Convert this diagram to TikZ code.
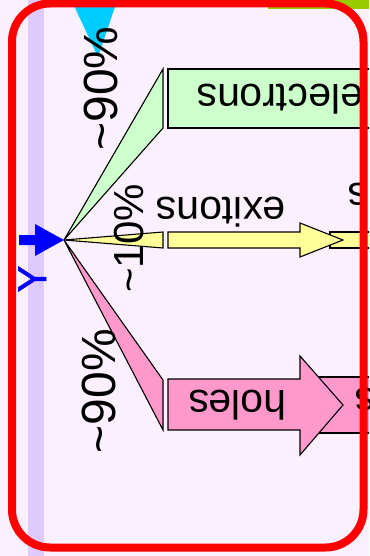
\documentclass[tikz,border=0pt]{standalone}
\usepackage{fontspec}
\setmainfont{Liberation Sans}
\definecolor{bg}{RGB}{251,240,253}
\definecolor{stripe}{RGB}{222,202,255}
\definecolor{cyanw}{RGB}{0,204,255}
\definecolor{lime}{RGB}{153,204,0}
\definecolor{elgreen}{RGB}{204,255,204}
\definecolor{exyellow}{RGB}{255,255,153}
\definecolor{hpink}{RGB}{255,153,204}
\definecolor{bordred}{RGB}{255,0,0}
\definecolor{beam}{RGB}{0,0,255}
\tikzset{
  outl/.style={draw=black, line width=1.1pt, line join=miter},
  wordlbl/.style={font=\fontsize{41}{49}\selectfont, inner sep=0pt, rotate=180, anchor=base},
  pctlbl/.style={font=\fontsize{48}{57}\selectfont, inner sep=0pt, rotate=90, anchor=base},
}
\begin{document}
\begin{tikzpicture}[x=1pt, y=-1pt]
\useasboundingbox (0,0) rectangle (369,556);
\clip (0,0) rectangle (369,556);
% background
\fill[bg] (0,0) rectangle (369,556);
\fill[stripe] (28,-5) rectangle (44,561);
\fill[lime] (268,-5) rectangle (375,9);
\fill[cyanw] (69,-5) -- (119,-5) -- (98,57) -- cycle;
% source point
\coordinate (src) at (64,240);
% wedges
\filldraw[outl, fill=elgreen] (src) -- (163,69) -- (163,128) -- cycle;
\filldraw[outl, fill=exyellow] (src) -- (163,232) -- (163,248) -- cycle;
\filldraw[outl, fill=hpink] (src) -- (163,380) -- (163,430) -- cycle;
% boxes beyond
\filldraw[outl, fill=exyellow] (330,232) rectangle (380,248);
\filldraw[outl, fill=hpink] (310,377) rectangle (380,433);
% electrons box
\filldraw[outl, fill=elgreen] (168,69) rectangle (380,128);
% exitons arrow
\filldraw[outl, fill=exyellow] (168,232) -- (300,232) -- (300,223) -- (343,240)
  -- (300,257) -- (300,248) -- (168,248) -- cycle;
% holes arrow
\filldraw[outl, fill=hpink] (168,379) -- (300,379) -- (300,356) -- (343,405)
  -- (300,455) -- (300,430) -- (168,430) -- cycle;
% blue input arrow
\fill[beam] (19,235) -- (35,235) -- (35,224) -- (src) -- (35,256) -- (35,245) -- (19,245) -- cycle;
% labels
\node[wordlbl] (el) at (280,85) {electrons};
\node[wordlbl] (ex) at (221,197) {exitons};
\node[wordlbl] (ho) at (237.5,390) {holes};
\node[wordlbl] (s1) at (358,183) {s};
\node[wordlbl] (s2) at (365,388) {s};
\node[pctlbl] (p1) at (117,88.5) {\textasciitilde 90\%};
\node[pctlbl, font=\fontsize{42}{50}\selectfont] (p2) at (143,238.5) {\textasciitilde 10\%};
\node[pctlbl] (p3) at (115,391) {\textasciitilde 90\%};
\node[font=\fontsize{40}{48}\selectfont, inner sep=0pt, rotate=90, anchor=base, text=beam] (yl) at (46,279) {\addfontfeature{FakeBold=1.5}Y};
% red frame
\draw[bordred, line width=8pt, rounded corners=38pt] (12,3.5) rectangle (363.5,547.5);
\end{tikzpicture}
\end{document}
